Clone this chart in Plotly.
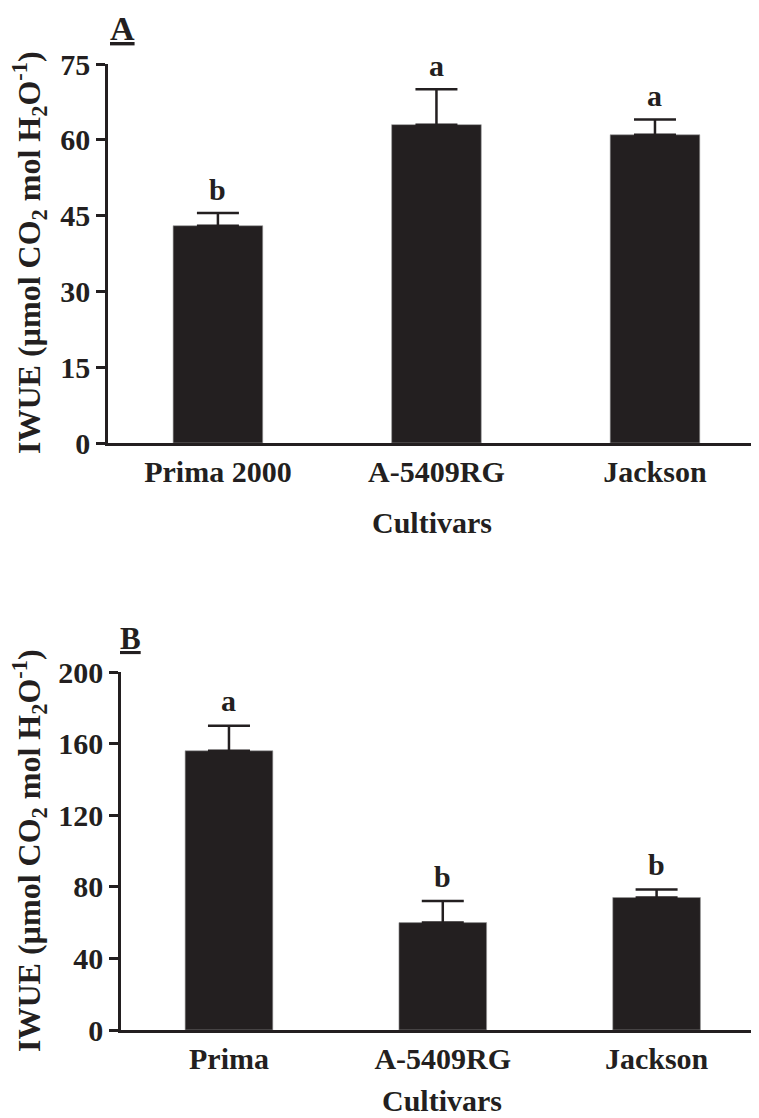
import plotly.graph_objects as go

# ---- data ----
cultivars_A = ["Prima 2000", "A-5409RG", "Jackson"]
iwue_A = [43, 63, 61]
err_A = [2.5, 7, 3]
letters_A = ["b", "a", "a"]
ticks_A = [0, 15, 30, 45, 60, 75]

cultivars_B = ["Prima", "A-5409RG", "Jackson"]
iwue_B = [156, 60, 74]
err_B = [14, 12, 4.5]
letters_B = ["a", "b", "b"]
ticks_B = [0, 40, 80, 120, 160, 200]

W, H = 759, 1118
OFF = 8  # page body margin offset
INK = "#231f20"
FONT = "Liberation Serif"


def px_x(p):
    return (p - OFF) / W


def px_y(p):
    return 1 - (p - OFF) / H


fig = go.Figure()

for i, (cats, vals, errs) in enumerate([(cultivars_A, iwue_A, err_A), (cultivars_B, iwue_B, err_B)]):
    sfx = "" if i == 0 else "2"
    fig.add_trace(go.Bar(
        x=cats, y=vals,
        xaxis="x" + sfx, yaxis="y" + sfx,
        width=0.41,
        marker=dict(color=INK, line=dict(color="#9a9a9a", width=0.6)),
        error_y=dict(type="data", array=errs, arrayminus=[0] * len(errs), symmetric=False,
                     color=INK, thickness=2.5, width=21),
        showlegend=False,
    ))

axis_common = dict(
    showline=True, linecolor=INK, linewidth=2.5, showgrid=False, zeroline=False,
    automargin=False,
    tickfont=dict(family=FONT, size=30, color=INK, weight="bold"),
)

fig.update_layout(
    width=W, height=H,
    margin=dict(l=0, r=0, t=0, b=0, autoexpand=False),
    paper_bgcolor="white", plot_bgcolor="white",
    xaxis=dict(domain=[px_x(108), px_x(759)], anchor="y", type="category",
               range=[-0.503, 2.476], ticks="", **axis_common),
    yaxis=dict(domain=[px_y(443), px_y(64)], anchor="x", range=[0, 75],
               tickvals=ticks_A, ticks="outside", ticklen=9, tickwidth=2.5, tickcolor=INK,
               **axis_common),
    xaxis2=dict(domain=[px_x(121), px_x(759)], anchor="y2", type="category",
                range=[-0.505, 2.479], ticks="", **axis_common),
    yaxis2=dict(domain=[px_y(1030), px_y(672)], anchor="x2", range=[0, 200],
                tickvals=ticks_B, ticks="outside", ticklen=9, tickwidth=2.5, tickcolor=INK,
                **axis_common),
)

ann_font = dict(family=FONT, size=30, color=INK, weight="bold")
title_font = dict(family=FONT, size=32, color=INK, weight="bold")
ytitle = "IWUE (µmol CO<sub>2</sub> mol H<sub>2</sub>O<sup>-1</sup>)"

annotations = []
# significance letters
for cats, vals, errs, lets, sfx, shift in [
    (cultivars_A, iwue_A, err_A, letters_A, "", 24),
    (cultivars_B, iwue_B, err_B, letters_B, "2", 25),
]:
    for c, v, e, l in zip(cats, vals, errs, lets):
        annotations.append(dict(x=c, y=v + e, xref="x" + sfx, yref="y" + sfx, text=l,
                                showarrow=False, xanchor="center", yanchor="middle",
                                yshift=shift, font=ann_font))

# panel letters
annotations.append(dict(x=px_x(122), y=px_y(28), xref="paper", yref="paper", text="<u>A</u>",
                        showarrow=False, xanchor="center", yanchor="middle",
                        font=dict(family=FONT, size=34, color=INK, weight="bold")))
annotations.append(dict(x=px_x(130), y=px_y(638), xref="paper", yref="paper", text="<u>B</u>",
                        showarrow=False, xanchor="center", yanchor="middle",
                        font=dict(family=FONT, size=31, color=INK, weight="bold")))

# axis titles
for yc in (253, 851):
    annotations.append(dict(x=px_x(29), y=px_y(yc), xref="paper", yref="paper", text=ytitle,
                            textangle=-90, showarrow=False, xanchor="center", yanchor="middle",
                            font=title_font))
annotations.append(dict(x=px_x(432), y=px_y(522), xref="paper", yref="paper", text="Cultivars",
                        showarrow=False, xanchor="center", yanchor="middle", font=ann_font))
annotations.append(dict(x=px_x(442), y=px_y(1100), xref="paper", yref="paper", text="Cultivars",
                        showarrow=False, xanchor="center", yanchor="middle", font=ann_font))

fig.update_layout(annotations=annotations)

fig.write_html("out.html")
